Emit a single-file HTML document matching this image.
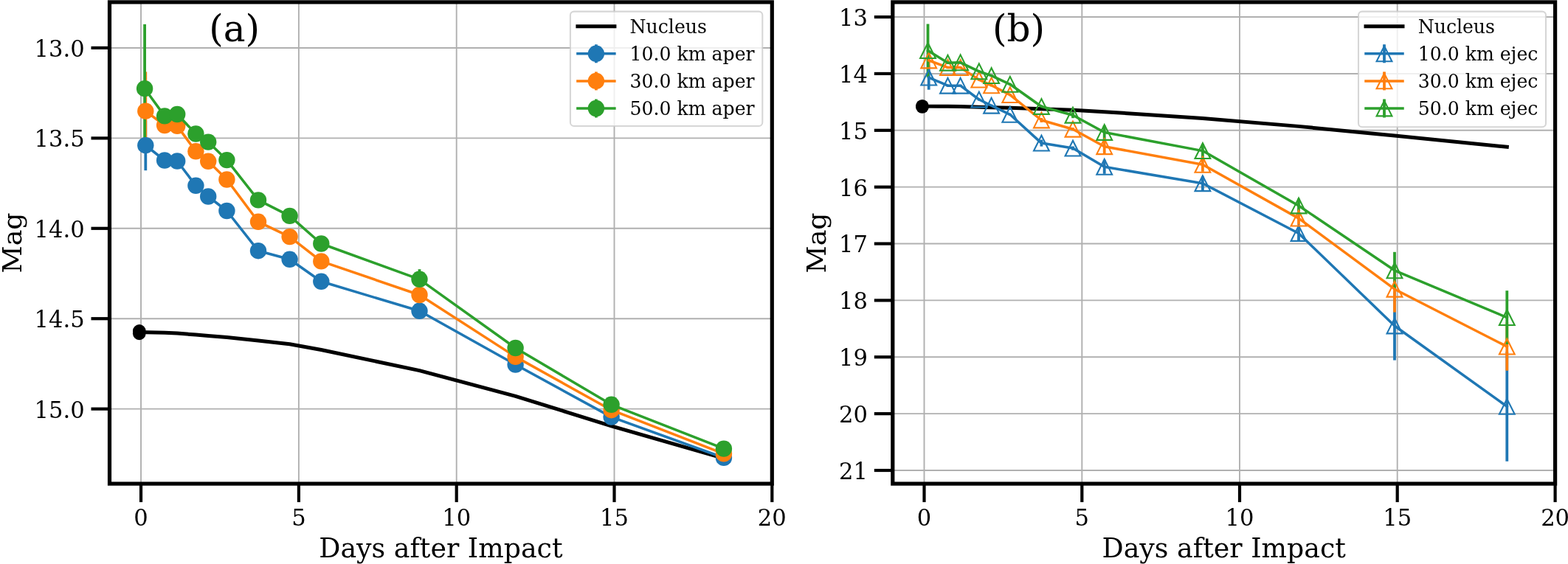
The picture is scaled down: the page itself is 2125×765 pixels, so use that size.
<!DOCTYPE html>
<html lang="en"><head><meta charset="utf-8"><title>Magnitude vs Days after Impact</title>
<style>html,body{margin:0;padding:0;background:#fff}body{width:2125px;height:765px;overflow:hidden}svg{display:block}svg text{font-family:'DejaVu Serif', 'Liberation Serif', serif;fill:#000}</style></head><body>
<svg width="2125" height="765" viewBox="0 0 2125 765" role="img" aria-label="Magnitude versus days after impact, two panels">
<rect x="0" y="0" width="2125" height="765" fill="#fff"/>
<g id="panel-a">
<g stroke="#b0b0b0" stroke-width="1.9" fill="none">
<line x1="191.04" y1="2.9" x2="191.04" y2="656.1"/>
<line x1="404.9" y1="2.9" x2="404.9" y2="656.1"/>
<line x1="618.7" y1="2.9" x2="618.7" y2="656.1"/>
<line x1="832.5" y1="2.9" x2="832.5" y2="656.1"/>
<line x1="148.5" y1="64.95" x2="1046.3" y2="64.95"/>
<line x1="148.5" y1="187.4" x2="1046.3" y2="187.4"/>
<line x1="148.5" y1="309.8" x2="1046.3" y2="309.8"/>
<line x1="148.5" y1="432.2" x2="1046.3" y2="432.2"/>
<line x1="148.5" y1="554.65" x2="1046.3" y2="554.65"/>
</g>
<g stroke="#1f77b4" stroke-width="3.8" fill="none">
<line x1="197.3" y1="163.2" x2="197.3" y2="231.2"/>
<line x1="223.1" y1="211.5" x2="223.1" y2="223.5"/>
<line x1="240.2" y1="212.5" x2="240.2" y2="224.5"/>
<line x1="265.4" y1="245.8" x2="265.4" y2="257.8"/>
<line x1="282.2" y1="260.5" x2="282.2" y2="272.5"/>
<line x1="307.4" y1="280" x2="307.4" y2="292"/>
<line x1="350" y1="334.2" x2="350" y2="346.2"/>
<line x1="392.6" y1="345.8" x2="392.6" y2="357.8"/>
<line x1="435.3" y1="375.8" x2="435.3" y2="387.8"/>
<line x1="568.5" y1="413.8" x2="568.5" y2="429.8"/>
<line x1="698.6" y1="486.5" x2="698.6" y2="502.5"/>
<line x1="828.6" y1="557.6" x2="828.6" y2="573.6"/>
<line x1="980.9" y1="612.9" x2="980.9" y2="628.9"/>
</g>
<g stroke="#ff7f0e" stroke-width="3.8" fill="none">
<line x1="197.3" y1="97.4" x2="197.3" y2="204"/>
<line x1="223.1" y1="164" x2="223.1" y2="176"/>
<line x1="240.2" y1="164.9" x2="240.2" y2="176.9"/>
<line x1="265.4" y1="199.3" x2="265.4" y2="211.3"/>
<line x1="282.2" y1="212.8" x2="282.2" y2="224.8"/>
<line x1="307.4" y1="237.5" x2="307.4" y2="249.5"/>
<line x1="350" y1="294.8" x2="350" y2="306.8"/>
<line x1="392.6" y1="315.1" x2="392.6" y2="327.1"/>
<line x1="435.3" y1="348.4" x2="435.3" y2="360.4"/>
<line x1="568.5" y1="392" x2="568.5" y2="408"/>
<line x1="698.6" y1="475.9" x2="698.6" y2="491.9"/>
<line x1="828.6" y1="548.2" x2="828.6" y2="564.2"/>
<line x1="980.9" y1="607.4" x2="980.9" y2="623.4"/>
</g>
<g stroke="#2ca02c" stroke-width="3.8" fill="none">
<line x1="196.1" y1="32.9" x2="196.1" y2="207.5"/>
<line x1="223.1" y1="151.4" x2="223.1" y2="163.4"/>
<line x1="240.2" y1="149" x2="240.2" y2="161"/>
<line x1="265.4" y1="175.5" x2="265.4" y2="187.5"/>
<line x1="282.2" y1="186.6" x2="282.2" y2="198.6"/>
<line x1="307.4" y1="211.1" x2="307.4" y2="223.1"/>
<line x1="350" y1="265.4" x2="350" y2="277.4"/>
<line x1="392.6" y1="286.9" x2="392.6" y2="298.9"/>
<line x1="435.3" y1="324.5" x2="435.3" y2="336.5"/>
<line x1="568.5" y1="365.2" x2="568.5" y2="392.4"/>
<line x1="698.6" y1="463" x2="698.6" y2="481"/>
<line x1="828.6" y1="539.8" x2="828.6" y2="557.8"/>
<line x1="980.9" y1="599.6" x2="980.9" y2="617.6"/>
</g>
<polyline points="188.8,450.6 223.1,451.3 240.2,452 265.4,454.1 282.2,455.5 307.4,457.6 350,462 392.6,466.8 435.3,474.5 568.5,502.6 698.6,537.4 828.6,577.8 980.9,621.6" fill="none" stroke="#000" stroke-width="5" stroke-linejoin="round" stroke-linecap="square"/>
<g fill="#000">
<circle cx="188.8" cy="448.9" r="8.85"/>
<circle cx="188.8" cy="452.3" r="8.85"/>
</g>
<polyline points="197.3,197.2 223.1,217.5 240.2,218.5 265.4,251.8 282.2,266.5 307.4,286 350,340.2 392.6,351.8 435.3,381.8 568.5,421.8 698.6,494.5 828.6,565.6 980.9,620.9" fill="none" stroke="#1f77b4" stroke-width="3.5" stroke-linejoin="round" stroke-linecap="square"/>
<g fill="#1f77b4">
<circle cx="197.3" cy="197.2" r="11.2"/>
<circle cx="223.1" cy="217.5" r="11.2"/>
<circle cx="240.2" cy="218.5" r="11.2"/>
<circle cx="265.4" cy="251.8" r="11.2"/>
<circle cx="282.2" cy="266.5" r="11.2"/>
<circle cx="307.4" cy="286" r="11.2"/>
<circle cx="350" cy="340.2" r="11.2"/>
<circle cx="392.6" cy="351.8" r="11.2"/>
<circle cx="435.3" cy="381.8" r="11.2"/>
<circle cx="568.5" cy="421.8" r="11.2"/>
<circle cx="698.6" cy="494.5" r="11.2"/>
<circle cx="828.6" cy="565.6" r="11.2"/>
<circle cx="980.9" cy="620.9" r="11.2"/>
</g>
<polyline points="197.3,150.7 223.1,170 240.2,170.9 265.4,205.3 282.2,218.8 307.4,243.5 350,300.8 392.6,321.1 435.3,354.4 568.5,400 698.6,483.9 828.6,556.2 980.9,615.4" fill="none" stroke="#ff7f0e" stroke-width="3.5" stroke-linejoin="round" stroke-linecap="square"/>
<g fill="#ff7f0e">
<circle cx="197.3" cy="150.7" r="11.2"/>
<circle cx="223.1" cy="170" r="11.2"/>
<circle cx="240.2" cy="170.9" r="11.2"/>
<circle cx="265.4" cy="205.3" r="11.2"/>
<circle cx="282.2" cy="218.8" r="11.2"/>
<circle cx="307.4" cy="243.5" r="11.2"/>
<circle cx="350" cy="300.8" r="11.2"/>
<circle cx="392.6" cy="321.1" r="11.2"/>
<circle cx="435.3" cy="354.4" r="11.2"/>
<circle cx="568.5" cy="400" r="11.2"/>
<circle cx="698.6" cy="483.9" r="11.2"/>
<circle cx="828.6" cy="556.2" r="11.2"/>
<circle cx="980.9" cy="615.4" r="11.2"/>
</g>
<polyline points="196.1,120.2 223.1,157.4 240.2,155 265.4,181.5 282.2,192.6 307.4,217.1 350,271.4 392.6,292.9 435.3,330.5 568.5,378.8 698.6,472 828.6,548.8 980.9,608.6" fill="none" stroke="#2ca02c" stroke-width="3.5" stroke-linejoin="round" stroke-linecap="square"/>
<g fill="#2ca02c">
<circle cx="196.1" cy="120.2" r="11.2"/>
<circle cx="223.1" cy="157.4" r="11.2"/>
<circle cx="240.2" cy="155" r="11.2"/>
<circle cx="265.4" cy="181.5" r="11.2"/>
<circle cx="282.2" cy="192.6" r="11.2"/>
<circle cx="307.4" cy="217.1" r="11.2"/>
<circle cx="350" cy="271.4" r="11.2"/>
<circle cx="392.6" cy="292.9" r="11.2"/>
<circle cx="435.3" cy="330.5" r="11.2"/>
<circle cx="568.5" cy="378.8" r="11.2"/>
<circle cx="698.6" cy="472" r="11.2"/>
<circle cx="828.6" cy="548.8" r="11.2"/>
<circle cx="980.9" cy="608.6" r="11.2"/>
</g>
<text transform="translate(317.7 55.8)" font-size="50" text-anchor="middle">(a)</text>
<rect x="772.9" y="15.6" width="260.4" height="155.4" rx="5" ry="5" fill="#fff" fill-opacity="0.8" stroke="#ccc" stroke-opacity="0.8" stroke-width="2.08"/>
<line x1="782.9" y1="35.7" x2="832.9" y2="35.7" stroke="#000" stroke-width="5" stroke-linecap="square"/>
<text transform="translate(853.6 44.9) scale(1 1.030)" font-size="25.15" text-anchor="start">Nucleus</text>
<line x1="807.9" y1="60.3" x2="807.9" y2="85.3" stroke="#1f77b4" stroke-width="3.8"/>
<line x1="782.9" y1="72.8" x2="832.9" y2="72.8" stroke="#1f77b4" stroke-width="3.5" stroke-linecap="square"/>
<circle cx="807.9" cy="72.8" r="11.2" fill="#1f77b4"/>
<text transform="translate(853.6 82) scale(1 1.030)" font-size="25.15" text-anchor="start">10.0 km aper</text>
<line x1="807.9" y1="97.4" x2="807.9" y2="122.4" stroke="#ff7f0e" stroke-width="3.8"/>
<line x1="782.9" y1="109.9" x2="832.9" y2="109.9" stroke="#ff7f0e" stroke-width="3.5" stroke-linecap="square"/>
<circle cx="807.9" cy="109.9" r="11.2" fill="#ff7f0e"/>
<text transform="translate(853.6 119.1) scale(1 1.030)" font-size="25.15" text-anchor="start">30.0 km aper</text>
<line x1="807.9" y1="134.5" x2="807.9" y2="159.5" stroke="#2ca02c" stroke-width="3.8"/>
<line x1="782.9" y1="147" x2="832.9" y2="147" stroke="#2ca02c" stroke-width="3.5" stroke-linecap="square"/>
<circle cx="807.9" cy="147" r="11.2" fill="#2ca02c"/>
<text transform="translate(853.6 156.2) scale(1 1.030)" font-size="25.15" text-anchor="start">50.0 km aper</text>
<rect x="148.5" y="2.9" width="897.8" height="653.2" fill="none" stroke="#000" stroke-width="5.2" stroke-linejoin="miter"/>
<g stroke="#000" stroke-width="4.2" fill="none">
<line x1="191.04" y1="656.1" x2="191.04" y2="681.1"/>
<line x1="404.9" y1="656.1" x2="404.9" y2="681.1"/>
<line x1="618.7" y1="656.1" x2="618.7" y2="681.1"/>
<line x1="832.5" y1="656.1" x2="832.5" y2="681.1"/>
<line x1="1046.3" y1="656.1" x2="1046.3" y2="681.1"/>
<line x1="123.5" y1="64.95" x2="148.5" y2="64.95"/>
<line x1="123.5" y1="187.4" x2="148.5" y2="187.4"/>
<line x1="123.5" y1="309.8" x2="148.5" y2="309.8"/>
<line x1="123.5" y1="432.2" x2="148.5" y2="432.2"/>
<line x1="123.5" y1="554.65" x2="148.5" y2="554.65"/>
</g>
<text transform="translate(191.04 713.3) scale(1 1.020)" font-size="30.6" text-anchor="middle">0</text>
<text transform="translate(404.9 713.3) scale(1 1.020)" font-size="30.6" text-anchor="middle">5</text>
<text transform="translate(618.7 713.3) scale(1 1.020)" font-size="30.6" text-anchor="middle">10</text>
<text transform="translate(832.5 713.3) scale(1 1.020)" font-size="30.6" text-anchor="middle">15</text>
<text transform="translate(1046.3 713.3) scale(1 1.020)" font-size="30.6" text-anchor="middle">20</text>
<text transform="translate(114.6 76.85) scale(1 1.020)" font-size="30.6" text-anchor="end">13.0</text>
<text transform="translate(114.6 199.3) scale(1 1.020)" font-size="30.6" text-anchor="end">13.5</text>
<text transform="translate(114.6 321.7) scale(1 1.020)" font-size="30.6" text-anchor="end">14.0</text>
<text transform="translate(114.6 444.1) scale(1 1.020)" font-size="30.6" text-anchor="end">14.5</text>
<text transform="translate(114.6 566.55) scale(1 1.020)" font-size="30.6" text-anchor="end">15.0</text>
<text transform="translate(597.4 756.3)" font-size="36.35" text-anchor="middle">Days after Impact</text>
<text transform="translate(28.9 329.5) rotate(-90) scale(1 0.975)" font-size="36.35" text-anchor="middle">Mag</text>
</g>
<g id="panel-b">
<g stroke="#b0b0b0" stroke-width="1.9" fill="none">
<line x1="1252.5" y1="2.9" x2="1252.5" y2="656.1"/>
<line x1="1466.3" y1="2.9" x2="1466.3" y2="656.1"/>
<line x1="1680" y1="2.9" x2="1680" y2="656.1"/>
<line x1="1893.7" y1="2.9" x2="1893.7" y2="656.1"/>
<line x1="1209.8" y1="23.06" x2="2107.6" y2="23.06"/>
<line x1="1209.8" y1="99.93" x2="2107.6" y2="99.93"/>
<line x1="1209.8" y1="176.8" x2="2107.6" y2="176.8"/>
<line x1="1209.8" y1="253.67" x2="2107.6" y2="253.67"/>
<line x1="1209.8" y1="330.54" x2="2107.6" y2="330.54"/>
<line x1="1209.8" y1="407.41" x2="2107.6" y2="407.41"/>
<line x1="1209.8" y1="484.28" x2="2107.6" y2="484.28"/>
<line x1="1209.8" y1="561.15" x2="2107.6" y2="561.15"/>
<line x1="1209.8" y1="638.02" x2="2107.6" y2="638.02"/>
</g>
<g stroke="#1f77b4" stroke-width="3.8" fill="none">
<line x1="1258.7" y1="88.5" x2="1258.7" y2="121.7"/>
<line x1="1284.5" y1="114.7" x2="1284.5" y2="117.7"/>
<line x1="1301.6" y1="114.7" x2="1301.6" y2="117.7"/>
<line x1="1326.8" y1="133.5" x2="1326.8" y2="136.5"/>
<line x1="1343.6" y1="141.7" x2="1343.6" y2="144.7"/>
<line x1="1368.8" y1="153.8" x2="1368.8" y2="156.8"/>
<line x1="1411.4" y1="189.6" x2="1411.4" y2="198.6"/>
<line x1="1454" y1="198.5" x2="1454" y2="203.7"/>
<line x1="1496.7" y1="216.8" x2="1496.7" y2="235.8"/>
<line x1="1629.9" y1="239.2" x2="1629.9" y2="258.2"/>
<line x1="1760" y1="307" x2="1760" y2="326"/>
<line x1="1890" y1="395.4" x2="1890" y2="488.6"/>
<line x1="2042.3" y1="477" x2="2042.3" y2="625.8"/>
</g>
<g stroke="#ff7f0e" stroke-width="3.8" fill="none">
<line x1="1258.7" y1="71" x2="1258.7" y2="93"/>
<line x1="1284.5" y1="90.1" x2="1284.5" y2="93.1"/>
<line x1="1301.6" y1="90.1" x2="1301.6" y2="93.1"/>
<line x1="1326.8" y1="106.6" x2="1326.8" y2="109.6"/>
<line x1="1343.6" y1="114.3" x2="1343.6" y2="117.3"/>
<line x1="1368.8" y1="127.1" x2="1368.8" y2="130.1"/>
<line x1="1411.4" y1="160" x2="1411.4" y2="166"/>
<line x1="1454" y1="173.2" x2="1454" y2="177.2"/>
<line x1="1496.7" y1="189.2" x2="1496.7" y2="208.2"/>
<line x1="1629.9" y1="213.8" x2="1629.9" y2="232.8"/>
<line x1="1760" y1="286.6" x2="1760" y2="305.6"/>
<line x1="1890" y1="360.9" x2="1890" y2="423.5"/>
<line x1="2042.3" y1="437.5" x2="2042.3" y2="502.7"/>
</g>
<g stroke="#2ca02c" stroke-width="3.8" fill="none">
<line x1="1257.5" y1="32.5" x2="1257.5" y2="104.7"/>
<line x1="1284.5" y1="83.7" x2="1284.5" y2="86.7"/>
<line x1="1301.6" y1="83.3" x2="1301.6" y2="86.3"/>
<line x1="1326.8" y1="95.3" x2="1326.8" y2="98.3"/>
<line x1="1343.6" y1="101.1" x2="1343.6" y2="104.1"/>
<line x1="1368.8" y1="112.8" x2="1368.8" y2="115.8"/>
<line x1="1411.4" y1="142.5" x2="1411.4" y2="146.5"/>
<line x1="1454" y1="152.2" x2="1454" y2="160.2"/>
<line x1="1496.7" y1="170" x2="1496.7" y2="189"/>
<line x1="1629.9" y1="195.1" x2="1629.9" y2="214.1"/>
<line x1="1760" y1="269.5" x2="1760" y2="288.5"/>
<line x1="1890" y1="341.8" x2="1890" y2="391.8"/>
<line x1="2042.3" y1="394.2" x2="2042.3" y2="467"/>
</g>
<polyline points="1250.2,144.13 1284.5,144.35 1301.6,144.57 1326.8,145.23 1343.6,145.67 1368.8,146.33 1411.4,147.71 1454,149.22 1496.7,151.64 1629.9,160.46 1760,171.38 1890,184.07 2042.3,199.32" fill="none" stroke="#000" stroke-width="5" stroke-linejoin="round" stroke-linecap="square"/>
<g fill="#000">
<circle cx="1249.9" cy="143.8" r="8.85"/>
<circle cx="1249.9" cy="144.9" r="8.85"/>
</g>
<polyline points="1258.7,105.1 1284.5,116.2 1301.6,116.2 1326.8,135 1343.6,143.2 1368.8,155.3 1411.4,194.1 1454,201.1 1496.7,226.3 1629.9,248.7 1760,316.5 1890,442 2042.3,551.4" fill="none" stroke="#1f77b4" stroke-width="3.5" stroke-linejoin="round" stroke-linecap="square"/>
<g fill="none" stroke="#1f77b4" stroke-width="2.1" stroke-linejoin="miter" stroke-miterlimit="10">
<polygon points="1258.7,94.7 1248.3,115.5 1269.1,115.5"/>
<polygon points="1284.5,105.8 1274.1,126.6 1294.9,126.6"/>
<polygon points="1301.6,105.8 1291.2,126.6 1312,126.6"/>
<polygon points="1326.8,124.6 1316.4,145.4 1337.2,145.4"/>
<polygon points="1343.6,132.8 1333.2,153.6 1354,153.6"/>
<polygon points="1368.8,144.9 1358.4,165.7 1379.2,165.7"/>
<polygon points="1411.4,183.7 1401,204.5 1421.8,204.5"/>
<polygon points="1454,190.7 1443.6,211.5 1464.4,211.5"/>
<polygon points="1496.7,215.9 1486.3,236.7 1507.1,236.7"/>
<polygon points="1629.9,238.3 1619.5,259.1 1640.3,259.1"/>
<polygon points="1760,306.1 1749.6,326.9 1770.4,326.9"/>
<polygon points="1890,431.6 1879.6,452.4 1900.4,452.4"/>
<polygon points="2042.3,541 2031.9,561.8 2052.7,561.8"/>
</g>
<polyline points="1258.7,82 1284.5,91.6 1301.6,91.6 1326.8,108.1 1343.6,115.8 1368.8,128.6 1411.4,163 1454,175.2 1496.7,198.7 1629.9,223.3 1760,296.1 1890,392.2 2042.3,470.1" fill="none" stroke="#ff7f0e" stroke-width="3.5" stroke-linejoin="round" stroke-linecap="square"/>
<g fill="none" stroke="#ff7f0e" stroke-width="2.1" stroke-linejoin="miter" stroke-miterlimit="10">
<polygon points="1258.7,71.6 1248.3,92.4 1269.1,92.4"/>
<polygon points="1284.5,81.2 1274.1,102 1294.9,102"/>
<polygon points="1301.6,81.2 1291.2,102 1312,102"/>
<polygon points="1326.8,97.7 1316.4,118.5 1337.2,118.5"/>
<polygon points="1343.6,105.4 1333.2,126.2 1354,126.2"/>
<polygon points="1368.8,118.2 1358.4,139 1379.2,139"/>
<polygon points="1411.4,152.6 1401,173.4 1421.8,173.4"/>
<polygon points="1454,164.8 1443.6,185.6 1464.4,185.6"/>
<polygon points="1496.7,188.3 1486.3,209.1 1507.1,209.1"/>
<polygon points="1629.9,212.9 1619.5,233.7 1640.3,233.7"/>
<polygon points="1760,285.7 1749.6,306.5 1770.4,306.5"/>
<polygon points="1890,381.8 1879.6,402.6 1900.4,402.6"/>
<polygon points="2042.3,459.7 2031.9,480.5 2052.7,480.5"/>
</g>
<polyline points="1257.5,68.6 1284.5,85.2 1301.6,84.8 1326.8,96.8 1343.6,102.6 1368.8,114.3 1411.4,144.5 1454,156.2 1496.7,179.5 1629.9,204.6 1760,279 1890,366.8 2042.3,430.6" fill="none" stroke="#2ca02c" stroke-width="3.5" stroke-linejoin="round" stroke-linecap="square"/>
<g fill="none" stroke="#2ca02c" stroke-width="2.1" stroke-linejoin="miter" stroke-miterlimit="10">
<polygon points="1257.5,58.2 1247.1,79 1267.9,79"/>
<polygon points="1284.5,74.8 1274.1,95.6 1294.9,95.6"/>
<polygon points="1301.6,74.4 1291.2,95.2 1312,95.2"/>
<polygon points="1326.8,86.4 1316.4,107.2 1337.2,107.2"/>
<polygon points="1343.6,92.2 1333.2,113 1354,113"/>
<polygon points="1368.8,103.9 1358.4,124.7 1379.2,124.7"/>
<polygon points="1411.4,134.1 1401,154.9 1421.8,154.9"/>
<polygon points="1454,145.8 1443.6,166.6 1464.4,166.6"/>
<polygon points="1496.7,169.1 1486.3,189.9 1507.1,189.9"/>
<polygon points="1629.9,194.2 1619.5,215 1640.3,215"/>
<polygon points="1760,268.6 1749.6,289.4 1770.4,289.4"/>
<polygon points="1890,356.4 1879.6,377.2 1900.4,377.2"/>
<polygon points="2042.3,420.2 2031.9,441 2052.7,441"/>
</g>
<text transform="translate(1380.4 55.8)" font-size="50" text-anchor="middle">(b)</text>
<rect x="1841" y="15.6" width="254" height="156.6" rx="5" ry="5" fill="#fff" fill-opacity="0.8" stroke="#ccc" stroke-opacity="0.8" stroke-width="2.08"/>
<line x1="1851" y1="35.7" x2="1901" y2="35.7" stroke="#000" stroke-width="5" stroke-linecap="square"/>
<text transform="translate(1921.7 44.9) scale(1 1.030)" font-size="25.15" text-anchor="start">Nucleus</text>
<line x1="1876" y1="60.3" x2="1876" y2="85.3" stroke="#1f77b4" stroke-width="3.8"/>
<line x1="1851" y1="72.8" x2="1901" y2="72.8" stroke="#1f77b4" stroke-width="3.5" stroke-linecap="square"/>
<g fill="none" stroke="#1f77b4" stroke-width="2.1" stroke-linejoin="miter" stroke-miterlimit="10"><polygon points="1876,62.4 1865.6,83.2 1886.4,83.2"/></g>
<text transform="translate(1921.7 82) scale(1 1.030)" font-size="25.15" text-anchor="start">10.0 km ejec</text>
<line x1="1876" y1="97.4" x2="1876" y2="122.4" stroke="#ff7f0e" stroke-width="3.8"/>
<line x1="1851" y1="109.9" x2="1901" y2="109.9" stroke="#ff7f0e" stroke-width="3.5" stroke-linecap="square"/>
<g fill="none" stroke="#ff7f0e" stroke-width="2.1" stroke-linejoin="miter" stroke-miterlimit="10"><polygon points="1876,99.5 1865.6,120.3 1886.4,120.3"/></g>
<text transform="translate(1921.7 119.1) scale(1 1.030)" font-size="25.15" text-anchor="start">30.0 km ejec</text>
<line x1="1876" y1="134.5" x2="1876" y2="159.5" stroke="#2ca02c" stroke-width="3.8"/>
<line x1="1851" y1="147" x2="1901" y2="147" stroke="#2ca02c" stroke-width="3.5" stroke-linecap="square"/>
<g fill="none" stroke="#2ca02c" stroke-width="2.1" stroke-linejoin="miter" stroke-miterlimit="10"><polygon points="1876,136.6 1865.6,157.4 1886.4,157.4"/></g>
<text transform="translate(1921.7 156.2) scale(1 1.030)" font-size="25.15" text-anchor="start">50.0 km ejec</text>
<rect x="1209.8" y="2.9" width="897.8" height="653.2" fill="none" stroke="#000" stroke-width="5.2" stroke-linejoin="miter"/>
<g stroke="#000" stroke-width="4.2" fill="none">
<line x1="1252.5" y1="656.1" x2="1252.5" y2="681.1"/>
<line x1="1466.3" y1="656.1" x2="1466.3" y2="681.1"/>
<line x1="1680" y1="656.1" x2="1680" y2="681.1"/>
<line x1="1893.7" y1="656.1" x2="1893.7" y2="681.1"/>
<line x1="2107.6" y1="656.1" x2="2107.6" y2="681.1"/>
<line x1="1184.8" y1="23.06" x2="1209.8" y2="23.06"/>
<line x1="1184.8" y1="99.93" x2="1209.8" y2="99.93"/>
<line x1="1184.8" y1="176.8" x2="1209.8" y2="176.8"/>
<line x1="1184.8" y1="253.67" x2="1209.8" y2="253.67"/>
<line x1="1184.8" y1="330.54" x2="1209.8" y2="330.54"/>
<line x1="1184.8" y1="407.41" x2="1209.8" y2="407.41"/>
<line x1="1184.8" y1="484.28" x2="1209.8" y2="484.28"/>
<line x1="1184.8" y1="561.15" x2="1209.8" y2="561.15"/>
<line x1="1184.8" y1="638.02" x2="1209.8" y2="638.02"/>
</g>
<text transform="translate(1252.5 713.3) scale(1 1.020)" font-size="30.6" text-anchor="middle">0</text>
<text transform="translate(1466.3 713.3) scale(1 1.020)" font-size="30.6" text-anchor="middle">5</text>
<text transform="translate(1680 713.3) scale(1 1.020)" font-size="30.6" text-anchor="middle">10</text>
<text transform="translate(1893.7 713.3) scale(1 1.020)" font-size="30.6" text-anchor="middle">15</text>
<text transform="translate(2107.6 713.3) scale(1 1.020)" font-size="30.6" text-anchor="middle">20</text>
<text transform="translate(1176 34.96) scale(1 1.020)" font-size="30.6" text-anchor="end">13</text>
<text transform="translate(1176 111.83) scale(1 1.020)" font-size="30.6" text-anchor="end">14</text>
<text transform="translate(1176 188.7) scale(1 1.020)" font-size="30.6" text-anchor="end">15</text>
<text transform="translate(1176 265.57) scale(1 1.020)" font-size="30.6" text-anchor="end">16</text>
<text transform="translate(1176 342.44) scale(1 1.020)" font-size="30.6" text-anchor="end">17</text>
<text transform="translate(1176 419.31) scale(1 1.020)" font-size="30.6" text-anchor="end">18</text>
<text transform="translate(1176 496.18) scale(1 1.020)" font-size="30.6" text-anchor="end">19</text>
<text transform="translate(1176 573.05) scale(1 1.020)" font-size="30.6" text-anchor="end">20</text>
<text transform="translate(1176 649.92) scale(1 1.020)" font-size="30.6" text-anchor="end">21</text>
<text transform="translate(1658.7 756.3)" font-size="36.35" text-anchor="middle">Days after Impact</text>
<text transform="translate(1119.3 329.5) rotate(-90) scale(1 0.975)" font-size="36.35" text-anchor="middle">Mag</text>
</g>
</svg></body></html>
